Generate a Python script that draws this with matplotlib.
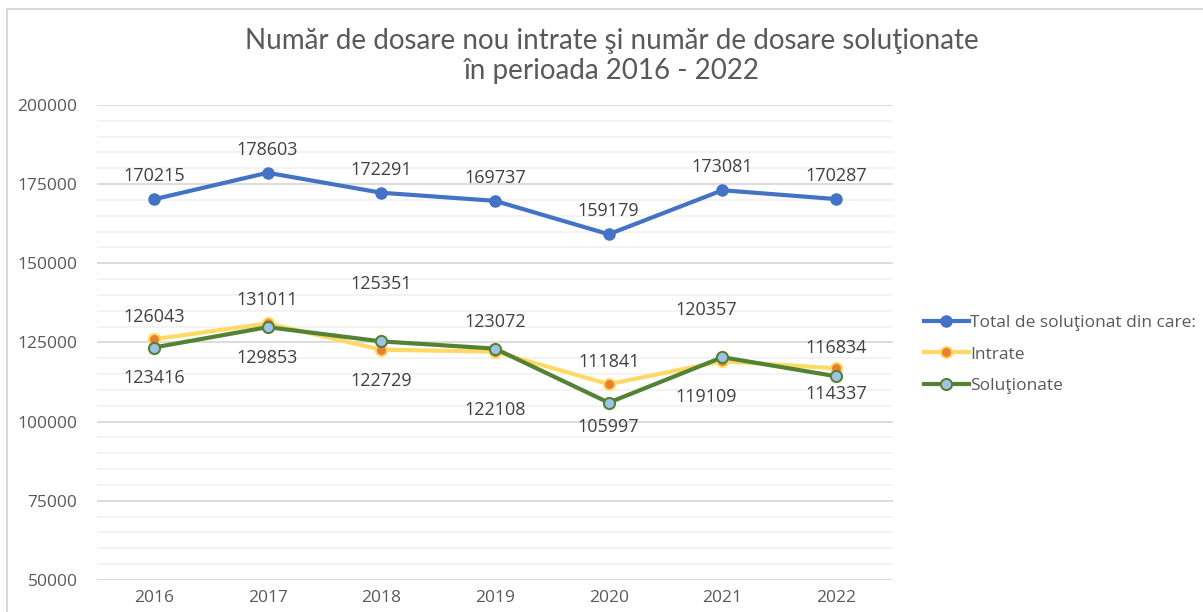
import matplotlib
matplotlib.use("Agg")
import matplotlib.pyplot as plt
from matplotlib.patches import Rectangle

years = ["2016", "2017", "2018", "2019", "2020", "2021", "2022"]
total = [170215, 178603, 172291, 169737, 159179, 173081, 170287]
intrate = [126043, 131011, 122729, 122108, 111841, 119109, 116834]
solutionate = [123416, 129853, 125351, 123072, 105997, 120357, 114337]

# label placement (pixels): upper label = larger of the two lower series, lower label = smaller
up_dy = [22, 23, 57, 27, 22, 47, 20]
lo_dy = [-30, -31, -31, -58, -24, -36, -18]
dx = [0, 0, 0, 0, 0, -16, 0]

plt.rcParams["font.family"] = ["Open Sans", "DejaVu Sans"]
GREY = "#595959"

fig = plt.figure(figsize=(12.03, 6.12), dpi=100)
fig.patches.append(Rectangle((7/1203, -0.1), 1.2, 1 - 9/612 + 0.1, transform=fig.transFigure,
                             fill=False, ec="#D9D9D9", lw=1.5))
ax = fig.add_axes([97/1203, 1 - 580/612, 796/1203, 475/612])

x = list(range(len(years)))
ax.set_xlim(-0.5, len(years) - 0.5)
ax.set_ylim(50000, 200000)
ax.set_yticks(range(50000, 200001, 25000))
ax.set_yticks(range(50000, 200001, 5000), minor=True)
ax.grid(which="minor", axis="y", color="#F2F2F2", lw=1.3)
ax.grid(which="major", axis="y", color="#D9D9D9", lw=1.3)
ax.set_axisbelow(True)
for s in ax.spines.values():
    s.set_visible(False)
ax.tick_params(which="both", length=0)
ax.tick_params(axis="y", pad=14, labelsize=12.5, labelcolor=GREY)
ax.tick_params(axis="x", pad=7, labelsize=12.5, labelcolor=GREY)
ax.set_xticks(x)
ax.set_xticklabels(years)

ax.plot(x, total, color="#4472C4", lw=3, marker="o", ms=8, mfc="#4472C4", mec="#4472C4",
        label="Total de soluţionat din care:", zorder=3)
ax.plot(x, intrate, color="#FFD966", lw=3, marker="o", ms=8, mfc="#ED7D31", mec="#FFD966", mew=1.5,
        label="Intrate", zorder=3)
ax.plot(x, solutionate, color="#548235", lw=3, marker="o", ms=8, mfc="#9DC3E6", mec="#548235", mew=1.5,
        label="Soluţionate", zorder=4)

lab = dict(ha="center", va="center", fontsize=13, color="#404040", textcoords="offset pixels")
for i in x:
    ax.annotate(str(total[i]), (i, total[i]), xytext=(0, 23), **lab)
    hi, lo = max(intrate[i], solutionate[i]), min(intrate[i], solutionate[i])
    ax.annotate(str(hi), (i, hi), xytext=(dx[i], up_dy[i]), **lab)
    ax.annotate(str(lo), (i, lo), xytext=(dx[i], lo_dy[i]), **lab)

fig.legend(loc="upper left", bbox_to_anchor=(908/1203, 1 - 299/612), frameon=False,
           fontsize=12.5, labelcolor=GREY, handlelength=2.6, handletextpad=0.1, labelspacing=0.9)

fig.text(612/1203, 1 - 41/612, "Număr de dosare nou intrate şi număr de dosare soluţionate",
         ha="center", va="center", fontsize=20, color=GREY, family=["Lato", "DejaVu Sans"])
fig.text(612/1203, 1 - 71/612, "în perioada 2016 - 2022",
         ha="center", va="center", fontsize=20, color=GREY, family=["Lato", "DejaVu Sans"])

fig.savefig("out.png", dpi=100)
